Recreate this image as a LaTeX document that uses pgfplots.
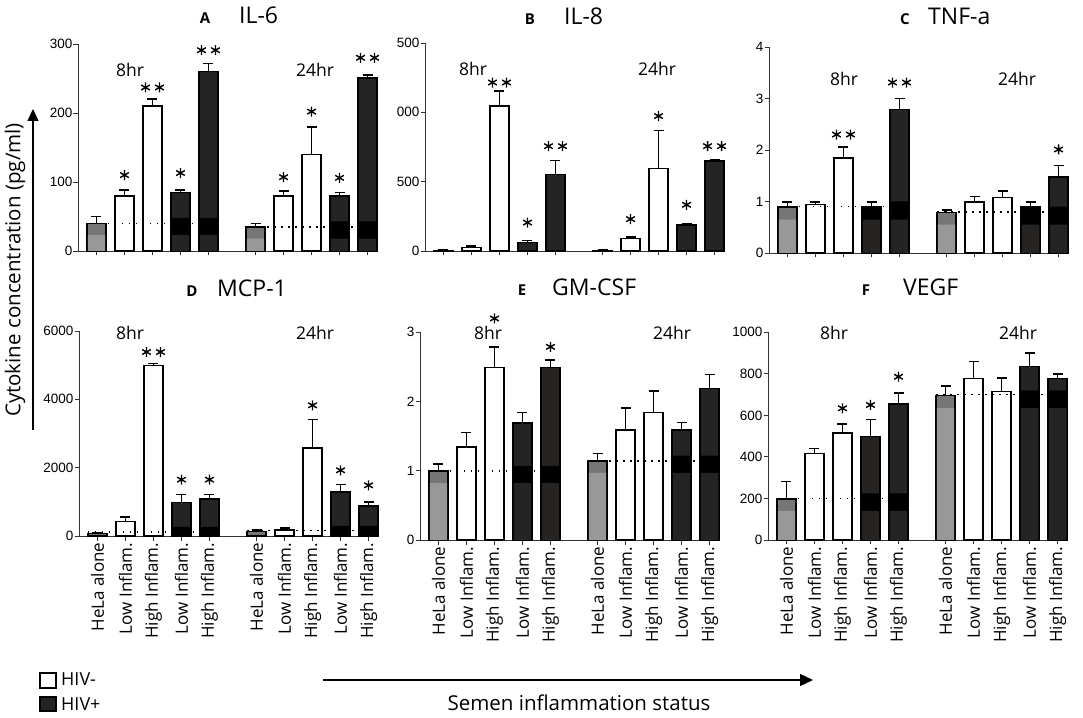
\documentclass[border=0pt]{standalone}
\usepackage{fontspec}
\setmainfont{Open Sans}
\newfontfamily\arial{Liberation Sans}
\usepackage{pgfplots}
\pgfplotsset{compat=1.18}
\usetikzlibrary{arrows.meta}
\definecolor{hela}{RGB}{118,118,118}
\definecolor{helalight}{RGB}{152,152,152}
\definecolor{darkbar}{RGB}{38,35,35}
\newcommand\tnfont{\arial\fontsize{13.5}{14}\selectfont}
\newcommand\catfont{\fontsize{17}{18}\selectfont}
\newcommand\ttlfont{\fontsize{23}{25}\selectfont}
\newcommand\ltrfont{\bfseries\fontsize{15}{16}\selectfont}
\newcommand\hrfont{\fontsize{17.5}{19}\selectfont}
\pgfplotsset{
  errb/.style={/pgfplots/error bars/y dir=plus, /pgfplots/error bars/y explicit,
    /pgfplots/error bars/error bar style={line width=1.6pt, black, solid},
    /pgfplots/error bars/error mark options={rotate=90, mark size=5pt, line width=1.6pt, black}},
  panel/.style={scale only axis, width=298.5pt, xmin=0.34, xmax=11.0, ymin=0, clip=false,
    anchor=south west,
    axis x line*=bottom, axis y line*=left,
    axis line style={line width=0.9pt, black!80},
    tick style={line width=0.9pt, black!80},
    tick align=outside, major tick length=4.5pt,
    xtick={1,2,3,4,5,6.68,7.68,8.68,9.68,10.68},
    yticklabel style={font=\tnfont, inner sep=1pt},
    /pgf/number format/assume math mode=true,
    /pgf/number format/1000 sep={}},
  toprow/.style={panel, xticklabels={}},
  botrow/.style={panel, xticklabels={HeLa alone,Low Inflam.,High Inflam.,Low Inflam.,High Inflam.,HeLa alone,Low Inflam.,High Inflam.,Low Inflam.,High Inflam.},
    xticklabel style={rotate=90, anchor=east, font=\catfont, inner sep=2pt}},
  helabar/.style={ybar, bar width=19pt, fill=hela, draw=black, line width=1.6pt, errb},
  whitebar/.style={ybar, bar width=19pt, fill=white, draw=black, line width=1.6pt, errb},
  darkbars/.style={ybar, bar width=19pt, fill=darkbar, draw=black, line width=1.6pt, errb},
  band/.style={ybar, bar width=17.4pt, draw=none, fill=#1},
  base/.style={black, line width=1.5pt, dash pattern=on 1.5pt off 5.5pt},
  stars/.style={only marks, mark=asterisk, mark size=5pt, black, mark options={solid, line width=1.4pt}},
}
\begin{document}
\begin{tikzpicture}
\useasboundingbox (0pt,0pt) rectangle (1083pt,717pt);

% ---------- A IL-6
\begin{axis}[toprow, at={(78pt,466pt)}, height=207pt, ymax=300, ytick={0,100,200,300}]
\addplot[helabar] coordinates {(1,40) +- (0,10) (6.68,35) +- (0,5)};
\addplot[band=helalight] coordinates {(1,23) (6.68,18)};
\addplot[whitebar] coordinates {(2,80) +- (0,8) (3,210) +- (0,10) (7.68,80) +- (0,7) (8.68,140) +- (0,40)};
\addplot[darkbars] coordinates {(4,85) +- (0,3) (5,260) +- (0,12) (9.68,80) +- (0,5) (10.68,251) +- (0,4)};
\addplot[band=black] coordinates {(4,48) (5,48) (9.68,43) (10.68,43)};
\addplot[band=darkbar] coordinates {(4,23) (5,23) (9.68,18) (10.68,18)};
\addplot[base] coordinates {(0.66,40) (5.34,40)};
\addplot[base] coordinates {(6.34,35) (11.02,35)};
\addplot[stars] coordinates {(2,110) (4,113) (7.68,107) (8.68,202) (9.68,106)};
\addplot[stars] coordinates {(2.75,237) (3.25,237) (4.75,291) (5.25,291) (10.43,280) (10.93,280)};
\end{axis}

% ---------- B IL-8
\begin{axis}[toprow, at={(425pt,466pt)}, height=208pt, ymax=1500, ytick={0,500,1000,1500}, yticklabels={0,500,000,500}]
\addplot[helabar] coordinates {(1,5) +- (0,5) (6.68,5) +- (0,4)};
\addplot[whitebar] coordinates {(2,25) +- (0,10) (3,1046) +- (0,108) (7.68,89) +- (0,10) (8.68,594) +- (0,276)};
\addplot[darkbars] coordinates {(4,60) +- (0,15) (5,551) +- (0,101) (9.68,188) +- (0,8) (10.68,650) +- (0,5)};
\addplot[stars] coordinates {(4,205) (7.68,230) (8.68,973) (9.68,333)};
\addplot[stars] coordinates {(2.75,1215) (3.25,1215) (4.75,756) (5.25,756) (10.43,756) (10.93,756)};
\end{axis}

% ---------- C TNF-a
\begin{axis}[toprow, at={(769pt,464pt)}, height=206pt, ymax=4, ytick={0,1,2,3,4}]
\addplot[helabar] coordinates {(1,0.89) +- (0,0.10) (6.68,0.79) +- (0,0.05)};
\addplot[band=helalight] coordinates {(1,0.65) (6.68,0.55)};
\addplot[whitebar] coordinates {(2,0.94) +- (0,0.05) (3,1.84) +- (0,0.22) (7.68,0.99) +- (0,0.11) (8.68,1.08) +- (0,0.12)};
\addplot[darkbars] coordinates {(4,0.89) +- (0,0.10) (5,2.79) +- (0,0.21) (9.68,0.89) +- (0,0.10) (10.68,1.48) +- (0,0.22)};
\addplot[band=black] coordinates {(4,0.87) (5,1.0) (9.68,0.87) (10.68,0.9)};
\addplot[band=darkbar] coordinates {(4,0.65) (5,0.65) (9.68,0.55) (10.68,0.55)};
\addplot[base] coordinates {(0.66,0.9) (5.34,0.9)};
\addplot[base] coordinates {(6.34,0.8) (11.02,0.8)};
\addplot[stars] coordinates {(10.68,2.01)};
\addplot[stars] coordinates {(2.75,2.30) (3.25,2.30) (4.75,3.31) (5.25,3.31)};
\end{axis}

% ---------- D MCP-1
\begin{axis}[botrow, at={(79pt,181pt)}, height=205pt, ymax=6000, ytick={0,2000,4000,6000}]
\addplot[helabar] coordinates {(1,70) +- (0,20) (6.68,130) +- (0,40)};
\addplot[whitebar] coordinates {(2,430) +- (0,125) (3,4995) +- (0,50) (7.68,180) +- (0,50) (8.68,2575) +- (0,840)};
\addplot[darkbars] coordinates {(4,976) +- (0,234) (5,1083) +- (0,127) (9.68,1288) +- (0,214) (10.68,880) +- (0,120)};
\addplot[band=black] coordinates {(4,270) (5,270) (9.68,300) (10.68,300)};
\addplot[base] coordinates {(0.66,110) (5.34,110)};
\addplot[base] coordinates {(6.34,160) (11.02,160)};
\addplot[stars] coordinates {(4,1650) (5,1650) (8.68,3825) (9.68,1923) (10.68,1484)};
\addplot[stars] coordinates {(2.75,5385) (3.25,5385)};
\end{axis}

% ---------- E GM-CSF
\begin{axis}[botrow, at={(420pt,177pt)}, height=207.7pt, ymax=3, ytick={0,1,2,3}]
\addplot[helabar] coordinates {(1,1.0) +- (0,0.10) (6.68,1.14) +- (0,0.11)};
\addplot[band=helalight] coordinates {(1,0.82) (6.68,0.97)};
\addplot[whitebar] coordinates {(2,1.34) +- (0,0.21) (3,2.49) +- (0,0.30) (7.68,1.59) +- (0,0.32) (8.68,1.84) +- (0,0.31)};
\addplot[darkbars] coordinates {(4,1.69) +- (0,0.15) (5,2.49) +- (0,0.11) (9.68,1.59) +- (0,0.11) (10.68,2.19) +- (0,0.20)};
\addplot[band=black] coordinates {(4,1.07) (5,1.07) (9.68,1.22) (10.68,1.22)};
\addplot[band=darkbar] coordinates {(4,0.82) (5,0.82) (9.68,0.97) (10.68,0.97)};
\addplot[base] coordinates {(0.66,1.0) (5.34,1.0)};
\addplot[base] coordinates {(6.34,1.14) (11.02,1.14)};
\addplot[stars] coordinates {(3,3.20) (5,2.79)};
\end{axis}

% ---------- F VEGF
\begin{axis}[botrow, at={(768pt,177pt)}, height=207.7pt, ymax=1000, ytick={0,200,400,600,800,1000}]
\addplot[helabar] coordinates {(1,196) +- (0,85) (6.68,695) +- (0,45)};
\addplot[band=helalight] coordinates {(1,140) (6.68,635)};
\addplot[whitebar] coordinates {(2,417) +- (0,24) (3,515) +- (0,44) (7.68,777) +- (0,82) (8.68,714) +- (0,65)};
\addplot[darkbars] coordinates {(4,498) +- (0,82) (5,655) +- (0,53) (9.68,835) +- (0,64) (10.68,777) +- (0,23)};
\addplot[band=black] coordinates {(4,225) (5,225) (9.68,720) (10.68,720)};
\addplot[band=darkbar] coordinates {(4,140) (5,140) (9.68,635) (10.68,635)};
\addplot[base] coordinates {(0.66,200) (5.34,200)};
\addplot[base] coordinates {(6.34,700) (11.02,700)};
\addplot[stars] coordinates {(3,634) (4,650) (5,786)};
\end{axis}

% ---------- titles
\node[font=\ltrfont, anchor=base] at (205pt,693pt) {A};
\node[font=\ttlfont, anchor=base west, inner sep=0pt] at (239pt,693pt) {IL-6};
\node[font=\ltrfont, anchor=base] at (530pt,692pt) {B};
\node[font=\ttlfont, anchor=base west, inner sep=0pt] at (564pt,692pt) {IL-8};
\node[font=\ltrfont, anchor=base] at (905pt,692pt) {C};
\node[font=\ttlfont, anchor=base west, inner sep=0pt] at (928pt,692pt) {TNF-a};
\node[font=\ltrfont, anchor=base] at (192pt,420pt) {D};
\node[font=\ttlfont, anchor=base west, inner sep=0pt] at (217pt,420pt) {MCP-1};
\node[font=\ltrfont, anchor=base] at (522pt,421pt) {E};
\node[font=\ttlfont, anchor=base west, inner sep=0pt] at (552pt,421pt) {GM-CSF};
\node[font=\ltrfont, anchor=base] at (866pt,421pt) {F};
\node[font=\ttlfont, anchor=base west, inner sep=0pt] at (903pt,421pt) {VEGF};

% ---------- time labels
\foreach \x/\y/\t in {116/640/8hr, 296/640/24hr, 459/641/8hr, 638/641/24hr, 830/631/8hr, 998/631/24hr,
  116/377/8hr, 296/377/24hr, 474/377/8hr, 653/377/24hr, 820/377/8hr, 999/377/24hr}
  \node[font=\hrfont, anchor=base west, inner sep=0pt] at (\x pt,\y pt) {\t};

% ---------- y label and arrow
\node[rotate=90, font=\fontsize{20.5}{22}\selectfont] at (15pt,447pt) {Cytokine concentration (pg/ml)};
\draw[line width=1.3pt, -{Triangle[length=12pt,width=11pt]}] (33pt,287pt) -- (33pt,608pt);

% ---------- legend
\draw[line width=1.1pt, fill=white] (40pt,29pt) rectangle (56pt,44pt);
\draw[line width=1.1pt, fill=darkbar] (40pt,6pt) rectangle (56pt,20pt);
\node[font=\fontsize{18}{20}\selectfont, anchor=west, inner sep=0pt] at (61pt,38pt) {HIV-};
\node[font=\fontsize{18}{20}\selectfont, anchor=west, inner sep=0pt] at (61pt,13pt) {HIV+};

% ---------- x arrow and label
\draw[line width=1.3pt, -{Triangle[length=13pt,width=12pt]}] (323pt,37pt) -- (813pt,37pt);
\node[font=\fontsize{20.5}{22}\selectfont, anchor=base] at (579pt,7pt) {Semen inflammation status};
\end{tikzpicture}
\end{document}
